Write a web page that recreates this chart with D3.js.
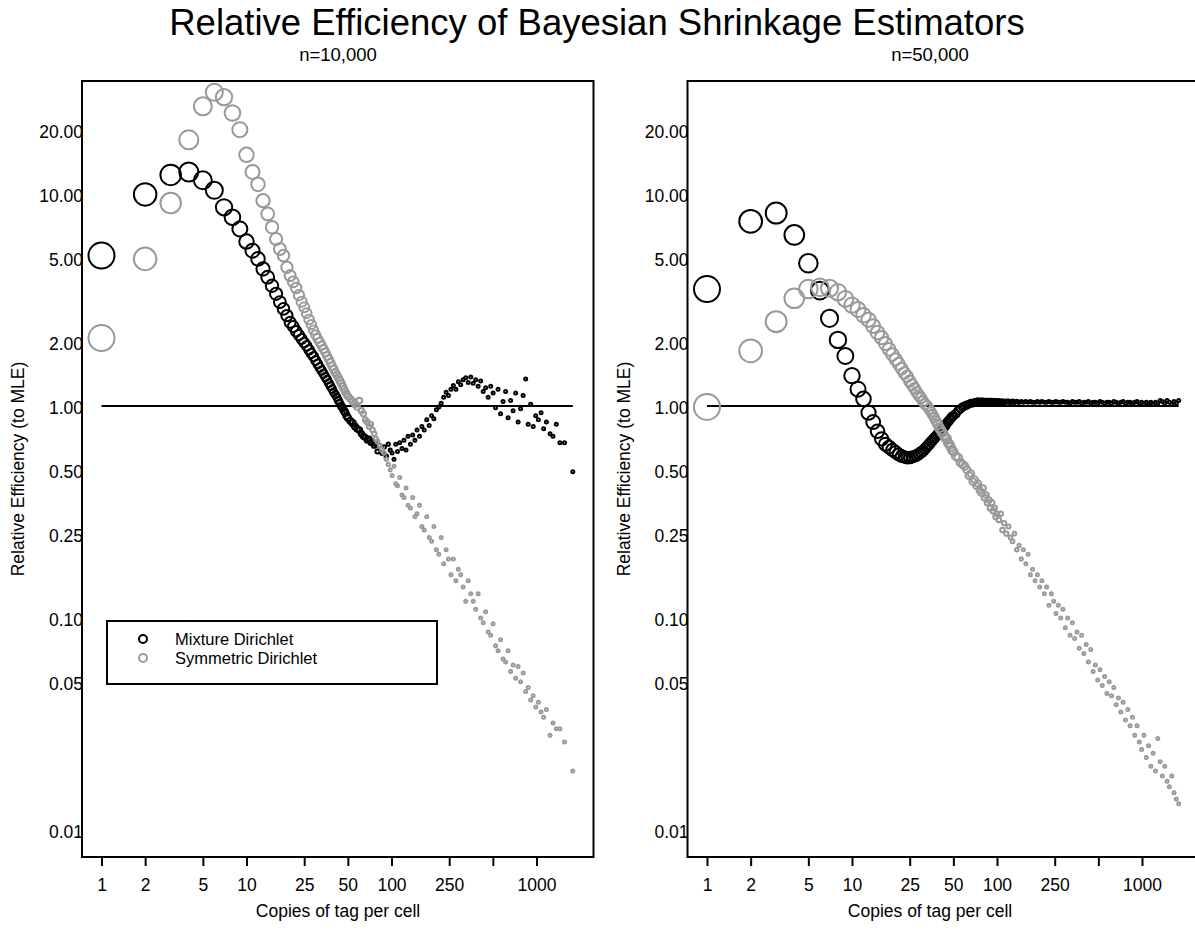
<!DOCTYPE html>
<html>
<head>
<meta charset="utf-8">
<script src="https://cdn.jsdelivr.net/npm/d3@7"></script>
<style>
  body { margin: 0; background: #fff; }
  svg text { font-family: "Liberation Sans", Arial, Helvetica, sans-serif; fill: #000; }
</style>
</head>
<body>
<svg id="chart" width="1195" height="938"></svg>
<script>
// ---- data ----
const copies10k = [
  1, 2, 3, 4, 5, 6, 7, 8, 9, 10, 11, 12, 13, 14, 15, 16, 17, 18, 19, 20,
  21, 22, 23, 24, 25, 26, 27, 28, 29, 30, 31, 32, 33, 34, 35, 36, 37, 38, 39, 40,
  41, 42, 43, 44, 45, 46, 47, 48, 49, 50,
  52, 54, 56, 58, 60, 62, 64, 66, 68, 70, 72, 74, 76, 78, 80, 83, 86, 89, 92, 95, 98,
  101, 104, 107, 110, 114, 118, 122, 126, 130, 135, 140, 145, 150, 156, 162, 168, 175, 182, 189, 196,
  204, 212, 220, 229, 238, 247, 257, 267, 278, 289, 300, 312, 325, 338, 352, 366, 381, 396, 412, 429,
  446, 464, 483, 502, 522, 543, 565, 588, 612, 637, 663, 690, 718, 747, 777, 809, 842, 876, 912, 949,
  988, 1030, 1075, 1120, 1170, 1240, 1300, 1370, 1450, 1560, 1780
];
const mixture10k = [
  5.12, 9.95, 12.3, 12.7, 11.6, 10.4, 8.65, 7.76, 6.84, 5.96,
  5.4, 4.94, 4.43, 4.05, 3.69, 3.38, 3.09, 2.87, 2.67, 2.48,
  2.37, 2.25, 2.16, 2.07, 1.99, 1.92, 1.84, 1.77, 1.71, 1.64,
  1.58, 1.52, 1.47, 1.42, 1.37, 1.33, 1.28, 1.24, 1.2, 1.16,
  1.13, 1.1, 1.06, 1.03, 1.0, 0.98, 0.95, 0.93, 0.9, 0.88,
  0.85, 0.83, 0.8, 0.78, 0.77, 0.74, 0.72, 0.71, 0.69, 0.7, 0.67, 0.68, 0.65, 0.66, 0.61, 0.65, 0.6, 0.64, 0.58, 0.66, 0.62,
  0.6, 0.56, 0.66, 0.61, 0.67, 0.63, 0.69, 0.62, 0.72, 0.66, 0.73, 0.69, 0.77, 0.72, 0.8, 0.77, 0.86, 0.81, 0.9, 0.87,
  0.96, 0.99, 1.03, 1.1, 1.16, 1.12, 1.2, 1.25, 1.2, 1.3, 1.26, 1.33, 1.36, 1.29, 1.37, 1.28, 1.33, 1.24, 1.31, 1.17,
  1.22, 1.1, 1.24, 1.15, 0.98, 1.2, 0.92, 1.05, 1.17, 0.88, 1.06, 0.95, 1.15, 0.84, 0.97, 1.12, 1.34, 0.82, 1.02, 0.8,
  0.9, 0.86, 0.93, 0.78, 0.84, 0.74, 0.72, 0.82, 0.67, 0.67, 0.49
];
const symmetric10k = [
  2.09, 4.94, 9.07, 18.0, 25.9, 30.2, 28.6, 24.1, 20.1, 15.3,
  12.7, 11.1, 9.3, 8.05, 6.97, 6.13, 5.5, 5.12, 4.51, 4.12,
  3.85, 3.6, 3.33, 3.1, 2.92, 2.74, 2.56, 2.42, 2.28, 2.17,
  2.08, 2.0, 1.93, 1.86, 1.79, 1.72, 1.66, 1.6, 1.54, 1.49,
  1.44, 1.4, 1.36, 1.32, 1.28, 1.24, 1.2, 1.17, 1.14, 1.11,
  1.08, 1.05, 1.02, 0.99, 1.06, 0.95, 0.92, 0.86, 0.84, 0.8, 0.82, 0.77, 0.74, 0.7, 0.68, 0.65, 0.62, 0.6, 0.56, 0.53, 0.5,
  0.47, 0.52, 0.43, 0.42, 0.46, 0.38, 0.37, 0.41, 0.34, 0.33, 0.37, 0.3, 0.31, 0.34, 0.27, 0.26, 0.3, 0.24, 0.23, 0.27,
  0.21, 0.2, 0.24, 0.18, 0.21, 0.19, 0.16, 0.19, 0.15, 0.17, 0.16, 0.14, 0.12, 0.15, 0.13, 0.12, 0.11, 0.13, 0.1, 0.095,
  0.107, 0.086, 0.083, 0.094, 0.074, 0.07, 0.079, 0.064, 0.062, 0.07, 0.056, 0.06, 0.052, 0.059, 0.05, 0.055, 0.045, 0.047, 0.041, 0.043,
  0.038, 0.04, 0.036, 0.034, 0.037, 0.028, 0.032, 0.03, 0.03, 0.026, 0.019
];

const copies50k = [
  1, 2, 3, 4, 5, 6, 7, 8, 9, 10, 11, 12, 13, 14, 15, 16, 17, 18, 19, 20,
  21, 22, 23, 24, 25, 26, 27, 28, 29, 30, 31, 32, 33, 34, 35, 36, 37, 38, 39, 40,
  41, 42, 43, 44, 45, 46, 47, 48, 49, 50,
  52, 54, 56, 58, 60, 62, 64, 66, 68, 70, 72, 74, 76, 78, 80, 82, 84, 86, 88, 90, 92, 94, 96, 98, 100,
  103, 106, 109, 112, 116, 120, 124, 128, 132, 137, 142, 147, 152, 158, 164, 170, 176, 183, 190, 197,
  204, 212, 220, 228, 237, 246, 255, 265, 275, 285, 296, 307, 319, 331, 343, 356, 369, 383, 397, 412,
  427, 443, 460, 477, 495, 513, 532, 552, 573, 594, 616, 639, 663, 688, 714, 741, 769, 798, 828, 859,
  891, 924, 958, 994, 1031, 1070, 1110, 1151, 1194, 1239, 1285, 1333, 1383, 1435, 1489, 1545, 1603, 1663, 1725, 1790
];
const mixture50k = [
  3.56, 7.43, 8.13, 6.41, 4.71, 3.5, 2.59, 2.05, 1.72, 1.39,
  1.2, 1.08, 0.93, 0.84, 0.76, 0.7, 0.66, 0.64, 0.62, 0.605,
  0.59, 0.58, 0.575, 0.57, 0.57, 0.575, 0.58, 0.585, 0.595, 0.605,
  0.615, 0.63, 0.645, 0.66, 0.675, 0.69, 0.705, 0.72, 0.735, 0.75,
  0.765, 0.78, 0.795, 0.81, 0.83, 0.845, 0.86, 0.875, 0.89, 0.9,
  0.92, 0.95, 0.97, 0.99, 1.0, 1.01, 1.02, 1.03, 1.03, 1.04, 1.04, 1.05, 1.04, 1.05, 1.05,
  1.04, 1.05, 1.05, 1.04, 1.05, 1.05, 1.04, 1.05, 1.05, 1.04,
  1.05, 1.04, 1.05, 1.04, 1.05, 1.05, 1.04, 1.05, 1.04, 1.05, 1.04, 1.05, 1.04, 1.05, 1.04, 1.05, 1.04, 1.04, 1.05, 1.04,
  1.05, 1.04, 1.04, 1.05, 1.04, 1.04, 1.05, 1.04, 1.04, 1.05, 1.04, 1.04, 1.03, 1.05, 1.04, 1.04, 1.05, 1.03, 1.04, 1.04,
  1.05, 1.03, 1.04, 1.04, 1.03, 1.05, 1.04, 1.03, 1.04, 1.04, 1.03, 1.05, 1.04, 1.03, 1.04, 1.05, 1.03, 1.04, 1.04, 1.03,
  1.04, 1.05, 1.03, 1.04, 1.02, 1.04, 1.03, 1.04, 1.02, 1.04, 1.03, 1.06, 1.05, 1.03, 1.06, 1.04, 1.02, 1.05, 1.03, 1.06
];
const symmetric50k = [
  0.99, 1.82, 2.5, 3.22, 3.56, 3.63, 3.59, 3.44, 3.2, 2.99,
  2.85, 2.68, 2.55, 2.38, 2.22, 2.1, 1.97, 1.85, 1.75, 1.66,
  1.58, 1.5, 1.43, 1.38, 1.31, 1.26, 1.21, 1.16, 1.12, 1.09,
  1.05, 1.02, 1.0, 0.97, 0.94, 0.91, 0.88, 0.85, 0.82, 0.79,
  0.77, 0.75, 0.73, 0.71, 0.7, 0.67, 0.66, 0.64, 0.62, 0.61,
  0.58, 0.57, 0.54, 0.53, 0.52, 0.5, 0.47, 0.48, 0.44, 0.45, 0.42, 0.43, 0.4, 0.39, 0.41,
  0.37, 0.38, 0.35, 0.36, 0.33, 0.35, 0.32, 0.33, 0.3, 0.31,
  0.29, 0.31, 0.26, 0.28, 0.25, 0.27, 0.24, 0.23, 0.25, 0.21, 0.22, 0.19, 0.21, 0.18, 0.2, 0.16, 0.17, 0.15, 0.16, 0.14,
  0.15, 0.13, 0.14, 0.115, 0.13, 0.12, 0.105, 0.115, 0.1, 0.11, 0.09, 0.1, 0.083, 0.095, 0.08, 0.086, 0.072, 0.083, 0.068, 0.075,
  0.062, 0.071, 0.056, 0.06, 0.051, 0.057, 0.048, 0.053, 0.044, 0.05, 0.043, 0.047, 0.039, 0.042, 0.036, 0.04, 0.033, 0.037, 0.031, 0.034,
  0.028, 0.031, 0.026, 0.024, 0.028, 0.022, 0.025, 0.02, 0.023, 0.019, 0.027, 0.021, 0.018, 0.02, 0.017, 0.016, 0.018, 0.015, 0.014, 0.0133
];

const yTickValues = [0.01, 0.05, 0.1, 0.25, 0.5, 1, 2, 5, 10, 20];
const xTickValues = [1, 2, 5, 10, 25, 50, 100, 250, 500, 1000];
const xTickLabels = ["1", "2", "5", "10", "25", "50", "100", "250", "", "1000"];
const seriesNames = ["Mixture Dirichlet", "Symmetric Dirichlet"];
const seriesColors = ["#000000", "#999999"];

// ---- layout ----
const plotTop = 81;
const plotBottom = 857;
const plotWidth = 511.5;
const labelSize = "17.5px";

const svg = d3.select("#chart");

svg.append("text")
  .attr("x", 597)
  .attr("y", 35)
  .attr("text-anchor", "middle")
  .style("font-size", "36.5px")
  .text("Relative Efficiency of Bayesian Shrinkage Estimators");

function drawPanel(left, titleX, subtitle, copies, mix, sym, rEnd, withLegend) {
  let right = left + plotWidth;
  let g = svg.append("g");

  let xScale = d3.scaleLog().domain([0.7338, 2472]).range([left, right]);
  let yScale = d3.scaleLog().domain([0.00746, 34.1]).range([plotBottom, plotTop]);
  let rScale = d3.scaleLog().domain([1, rEnd]).range([13, 1.5]).clamp(true);

  // y axis labels (no tick marks)
  let yAxis = g.append("g")
    .attr("transform", `translate(${left + 1}, 2)`)
    .call(d3.axisLeft(yScale).tickValues(yTickValues).tickSize(0).tickPadding(0)
      .tickFormat(d3.format(".2f")));
  yAxis.select(".domain").remove();
  yAxis.selectAll("text").style("font-size", labelSize);

  // x axis
  let xAxis = g.append("g")
    .attr("transform", `translate(0, ${plotBottom})`)
    .call(d3.axisBottom(xScale).tickValues(xTickValues).tickSize(9).tickPadding(13)
      .tickFormat((d, i) => xTickLabels[i]));
  xAxis.select(".domain").remove();
  xAxis.selectAll("line").attr("stroke-width", 2);
  xAxis.selectAll("text").style("font-size", labelSize);

  // clip the marks to the plot box
  let clipId = "clip" + Math.round(left);
  g.append("clipPath").attr("id", clipId)
    .append("rect")
    .attr("x", left).attr("y", plotTop)
    .attr("width", plotWidth).attr("height", plotBottom - plotTop);

  let marks = g.append("g").attr("clip-path", `url(#${clipId})`);

  // reference line at 1
  marks.append("line")
    .attr("x1", xScale(1))
    .attr("x2", xScale(d3.max(copies)))
    .attr("y1", yScale(1))
    .attr("y2", yScale(1))
    .attr("stroke", "#000")
    .attr("stroke-width", 2);

  [mix, sym].forEach((values, s) => {
    marks.append("g")
      .selectAll("circle")
      .data(copies)
      .join("circle")
      .attr("cx", (d) => xScale(d))
      .attr("cy", (d, i) => yScale(values[i]))
      .attr("r", (d) => rScale(d))
      .attr("fill", "none")
      .attr("stroke", seriesColors[s])
      .attr("stroke-width", 2);
  });

  // box
  g.append("rect")
    .attr("x", left).attr("y", plotTop)
    .attr("width", plotWidth).attr("height", plotBottom - plotTop)
    .attr("fill", "none")
    .attr("stroke", "#000")
    .attr("stroke-width", 2);

  g.append("text")
    .attr("x", titleX)
    .attr("y", 61)
    .attr("text-anchor", "middle")
    .style("font-size", "18.5px")
    .text(subtitle);

  g.append("text")
    .attr("x", titleX)
    .attr("y", 917)
    .attr("text-anchor", "middle")
    .style("font-size", labelSize)
    .text("Copies of tag per cell");

  g.append("text")
    .attr("transform", `translate(${left - 58}, ${(plotTop + plotBottom) / 2}) rotate(-90)`)
    .attr("text-anchor", "middle")
    .style("font-size", labelSize)
    .text("Relative Efficiency (to MLE)");

  if (withLegend) {
    let legend = g.append("g");
    legend.append("rect")
      .attr("x", 107).attr("y", 621)
      .attr("width", 330).attr("height", 63)
      .attr("fill", "#fff")
      .attr("stroke", "#000")
      .attr("stroke-width", 2);
    seriesNames.forEach((name, i) => {
      legend.append("circle")
        .attr("cx", 143).attr("cy", 639 + i * 19)
        .attr("r", 4)
        .attr("fill", "none")
        .attr("stroke", seriesColors[i])
        .attr("stroke-width", 2);
      legend.append("text")
        .attr("x", 175).attr("y", 645 + i * 19)
        .style("font-size", "16.5px")
        .text(name);
    });
  }
}

drawPanel(82, 338, "n=10,000", copies10k, mixture10k, symmetric10k, 100, true);
drawPanel(687.5, 930, "n=50,000", copies50k, mixture50k, symmetric50k, 150, false);
</script>
</body>
</html>
